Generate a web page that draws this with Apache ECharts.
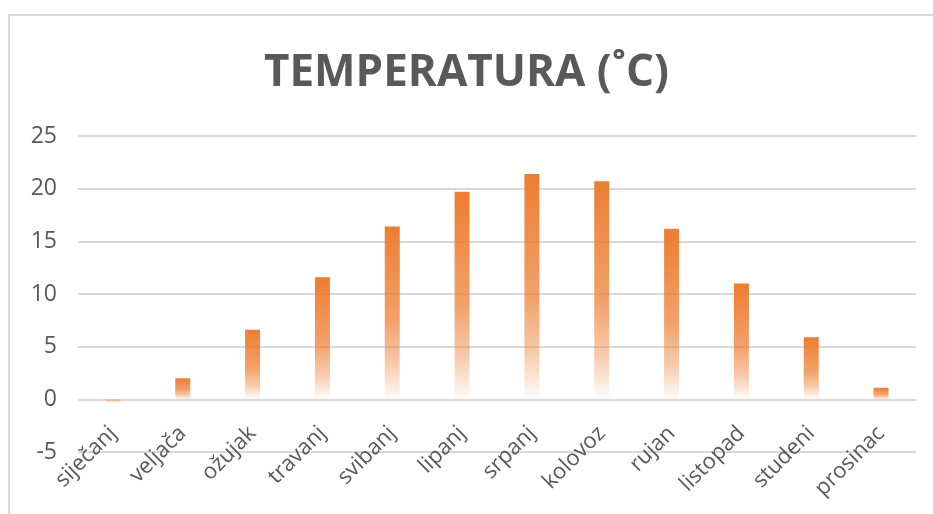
<!DOCTYPE html>
<html>
<head>
<meta charset="utf-8">
<script src="https://cdn.jsdelivr.net/npm/echarts@6/dist/echarts.min.js"></script>
<style>html,body{margin:0;padding:0;background:#fff;overflow:hidden;}#c{width:933px;height:514px;}</style>
</head>
<body>
<div id="c"></div>
<script>
const titleText = 'TEMPERATURA (˚C)';
const months = ['siječanj','veljača','ožujak','travanj','svibanj','lipanj','srpanj','kolovoz','rujan','listopad','studeni','prosinac'];
const temps = [-0.2, 2.0, 6.6, 11.6, 16.4, 19.7, 21.4, 20.7, 16.2, 11.0, 5.9, 1.1];
const yTicks = [-5, 0, 5, 10, 15, 20, 25];

const chart = echarts.init(document.getElementById('c'), null, {renderer: 'canvas', width: 933, height: 514});
const grad = new echarts.graphic.LinearGradient(0, 0, 0, 1, [
  {offset: 0, color: 'rgba(237,125,49,1)'},
  {offset: 0.55, color: 'rgba(237,125,49,0.72)'},
  {offset: 0.8, color: 'rgba(237,125,49,0.4)'},
  {offset: 1, color: 'rgba(237,125,49,0.02)'}
]);
const data = temps.map(v => v < 0 ? {value: v, itemStyle: {color: '#F5B58A'}} : v);
chart.setOption({
  backgroundColor: '#fff',
  animation: false,
  title: {
    text: titleText, left: 'center', top: 46,
    textStyle: {fontFamily: 'Open Sans', fontWeight: 'bold', fontSize: 44, color: '#595959'}
  },
  graphic: [{
    type: 'polyline', silent: true,
    shape: {points: [[9, 520], [9, 15], [940, 15]]},
    style: {stroke: '#d9d9d9', lineWidth: 2, fill: null}
  }],
  grid: {left: 78, right: 17, top: 136, bottom: 62, containLabel: false, outerBoundsMode: 'none'},
  xAxis: {
    type: 'category', data: months,
    axisLine: {show: false}, axisTick: {show: false},
    axisLabel: {rotate: 45, margin: -22, interval: 0, fontFamily: 'Open Sans', fontSize: 22, color: '#595959'}
  },
  yAxis: {
    type: 'value', min: yTicks[0], max: yTicks[yTicks.length - 1], interval: 5,
    axisLine: {show: false}, axisTick: {show: false},
    axisLabel: {margin: 21, fontFamily: 'Open Sans', fontSize: 23, color: '#595959'},
    splitLine: {lineStyle: {color: '#d9d9d9', width: 2}}
  },
  series: [{
    type: 'bar', data: data, barWidth: 15,
    itemStyle: {color: grad}
  }]
});
</script>
</body>
</html>
